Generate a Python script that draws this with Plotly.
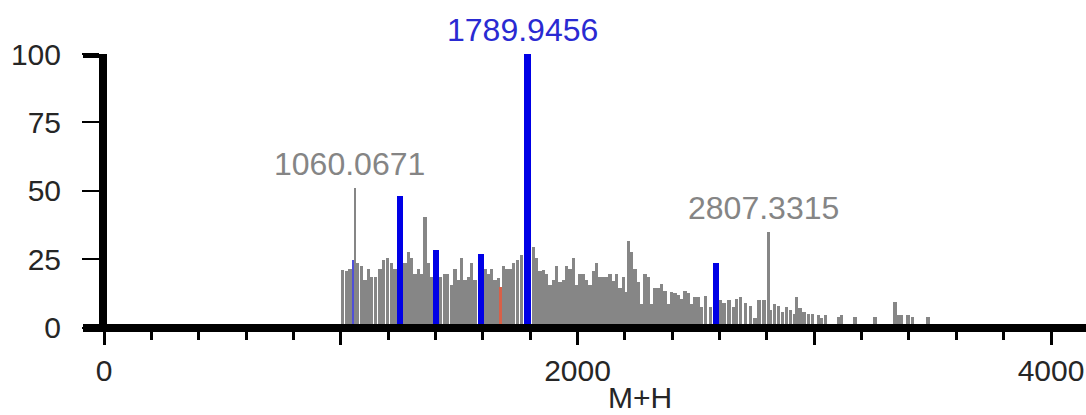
import plotly.graph_objects as go

# Peak list: m/z (M+H) and relative intensity (%)
gray_mz = [1007, 1025, 1039, 1053, 1070, 1088, 1102, 1117, 1131, 1148, 1166, 1180, 1197, 1215, 1229,
           1271, 1286, 1300, 1314, 1328, 1342, 1356, 1370, 1384,
           1422, 1437, 1452, 1469, 1483, 1497, 1511, 1525, 1539, 1553, 1567,
           1609, 1623, 1638, 1652, 1666, 1687, 1701, 1715, 1729, 1746, 1764,
           1813, 1828, 1842, 1856, 1870, 1884, 1898, 1912, 1926, 1940, 1954, 1968, 1983, 1997,
           2011, 2025, 2039, 2053, 2067, 2081, 2095, 2109, 2123, 2137, 2151, 2165, 2180, 2194,
           2205, 2215, 2229, 2243, 2257, 2271, 2285, 2299, 2313, 2327, 2341, 2355, 2370, 2384,
           2398, 2412, 2426, 2440, 2454, 2468, 2482, 2496, 2510, 2524, 2541, 2561,
           2602, 2619, 2640, 2658, 2672, 2689, 2710, 2732, 2750, 2767, 2788,
           2816, 2833, 2848, 2865, 2883, 2900, 2916, 2926, 2940, 2957, 2975, 2993,
           3017, 3029, 3048, 3102, 3116, 3172, 3257, 3341, 3355, 3369, 3396, 3414, 3480]
gray_int = [21, 20.5, 21.5, 24.5, 23.5, 22.5, 17.5, 21.5, 18.5, 18.5, 21.5, 24.5, 25.5, 23.5, 21.5,
            23.5, 27.5, 25.5, 19.5, 21.5, 19.5, 40.5, 23.5, 18.5,
            18.5, 19.5, 19.5, 15.5, 21.5, 17.5, 25.5, 17.5, 18.5, 23.5, 17.5,
            21.5, 19.5, 21.5, 17.5, 18, 22.5, 21.5, 21.5, 23.5, 24.5, 26.5,
            29.5, 25.5, 20.5, 21, 19.5, 15.5, 17.5, 22.5, 16.5, 17.5, 22.5, 21.5, 25.5, 15.5,
            19.5, 19.5, 17.5, 15.5, 20.5, 23.5, 18.5, 18.5, 18.5, 19.5, 17, 19.5, 14.5, 18.5,
            13, 31.5, 27.5, 21.5, 16.5, 8.5, 19.5, 18.5, 8.5, 14.5, 14.5, 16, 13.5, 8.5,
            13, 12.5, 12, 10.5, 13.5, 12.5, 8.5, 11, 11, 7.5, 11.5, 7.5,
            10, 9, 10, 7.5, 10.5, 11, 9, 8, 3.5, 10, 10,
            6.5, 8.5, 8, 5.5, 7.5, 6.5, 5, 11, 7, 5.5, 5, 5,
            4.5, 3.5, 4.5, 4, 4.5, 4, 4, 9.5, 4.5, 4.5, 4.5, 4, 4]

# Labelled single spikes
spike_mz = [1060.0671, 2807.3315]
spike_int = [51, 35]

# Matched peaks (blue) and one flagged peak (red)
blue_mz = [1250, 1402, 1592, 1789.9456, 2585]
blue_int = [48.1, 28.3, 26.9, 100, 23.6]
thin_blue_mz = [1052]
thin_blue_int = [24.7]
red_mz = [1673]
red_int = [14.8]

# Peak annotations (m/z, intensity, colour)
labels = [(1060.0671, 51, "#858585"), (1789.9456, 100, "#2a2ad2"), (2807.3315, 35, "#858585")]

xticks = [0, 1000, 2000, 3000, 4000]
xticktext = ["0", "", "2000", "", "4000"]
yticks = [0, 25, 50, 75, 100]

W, H = 1086, 415
FONT = "Liberation Sans, Arial, sans-serif"
GRAY = "#868686"
BLUE = "#0000e6"

fig = go.Figure()
fig.add_trace(go.Bar(x=gray_mz, y=gray_int, width=14, marker=dict(color=GRAY, line=dict(width=0))))
fig.add_trace(go.Bar(x=spike_mz, y=spike_int, width=8, marker=dict(color=GRAY, line=dict(width=0))))
fig.add_trace(go.Bar(x=red_mz, y=red_int, width=12, marker=dict(color="#d86048", line=dict(width=0))))
fig.add_trace(go.Bar(x=thin_blue_mz, y=thin_blue_int, width=6, marker=dict(color="#5050d8", line=dict(width=0))))
fig.add_trace(go.Bar(x=blue_mz, y=blue_int, width=28, marker=dict(color=BLUE, line=dict(width=0))))

y_bot = (H - 327.5) / H
y_top = (H - 54) / H
x_left = 83 / W
y_axis_pos = 103 / W

annotations = []
for mz, val, col in labels:
    annotations.append(dict(x=mz, y=val, xref="x", yref="y", text=f"{mz:.4f}", showarrow=False,
                            xanchor="center", yanchor="middle", xshift=-5, yshift=24,
                            font=dict(family=FONT, size=32, color=col)))
annotations.append(dict(x=640 / W, y=(H - 397) / H, xref="paper", yref="paper", text="M+H",
                        showarrow=False, xanchor="center", yanchor="middle",
                        font=dict(family=FONT, size=30, color="#262626")))

fig.update_layout(
    width=W, height=H,
    margin=dict(l=0, r=0, t=0, b=0, autoexpand=False),
    paper_bgcolor="white", plot_bgcolor="white",
    showlegend=False, barmode="overlay", bargap=0,
    annotations=annotations,
    shapes=[dict(type="line", xref="paper", yref="y", x0=x_left, x1=y_axis_pos + 4 / W,
                 y0=100, y1=100, line=dict(color="black", width=8))],
    xaxis=dict(domain=[x_left, 1], range=[-88.7, 4147.8], anchor="free", position=y_bot,
               automargin=False,
               showline=True, linewidth=8, linecolor="black", showgrid=False, zeroline=False,
               tickmode="array", tickvals=xticks, ticktext=xticktext,
               ticks="outside", ticklen=13, tickwidth=3, tickcolor="black",
               minor=dict(dtick=200, tick0=0, ticks="outside", ticklen=8, tickwidth=2.5,
                          tickcolor="black", showgrid=False),
               tickfont=dict(family=FONT, size=30, color="#262626")),
    yaxis=dict(domain=[y_bot, y_top], range=[0, 100], anchor="free", position=y_axis_pos,
               automargin=False,
               side="left", showline=True, linewidth=8, linecolor="black",
               showgrid=False, zeroline=False,
               tickmode="array", tickvals=yticks, ticklabelstandoff=15,
               ticks="outside", ticklen=17, tickwidth=2, tickcolor="black",
               tickfont=dict(family=FONT, size=30, color="#262626")),
)

fig.write_html("out.html")
